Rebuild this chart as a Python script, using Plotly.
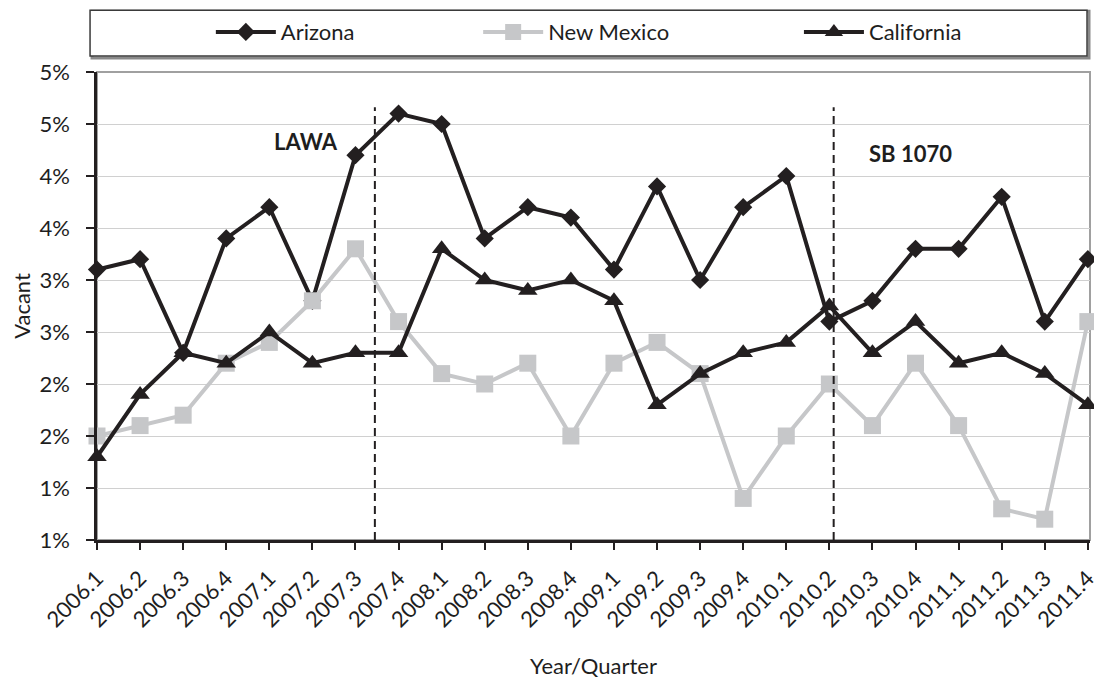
import plotly.graph_objects as go

quarters = ["2006.1", "2006.2", "2006.3", "2006.4", "2007.1", "2007.2", "2007.3", "2007.4",
            "2008.1", "2008.2", "2008.3", "2008.4", "2009.1", "2009.2", "2009.3", "2009.4",
            "2010.1", "2010.2", "2010.3", "2010.4", "2011.1", "2011.2", "2011.3", "2011.4"]
arizona = [3.1, 3.2, 2.3, 3.4, 3.7, 2.8, 4.2, 4.6, 4.5, 3.4, 3.7, 3.6,
           3.1, 3.9, 3.0, 3.7, 4.0, 2.6, 2.8, 3.3, 3.3, 3.8, 2.6, 3.2]
new_mexico = [1.5, 1.6, 1.7, 2.2, 2.4, 2.8, 3.3, 2.6, 2.1, 2.0, 2.2, 1.5,
              2.2, 2.4, 2.1, 0.9, 1.5, 2.0, 1.6, 2.2, 1.6, 0.8, 0.7, 2.6]
california = [1.3, 1.9, 2.3, 2.2, 2.5, 2.2, 2.3, 2.3, 3.3, 3.0, 2.9, 3.0,
              2.8, 1.8, 2.1, 2.3, 2.4, 2.75, 2.3, 2.6, 2.2, 2.3, 2.1, 1.8]
y_tick_values = [0.5, 1.0, 1.5, 2.0, 2.5, 3.0, 3.5, 4.0, 4.5, 5.0]
y_tick_labels = ["1%", "1%", "2%", "2%", "3%", "3%", "4%", "4%", "5%", "5%"]
event_names = ["LAWA", "SB 1070"]
event_positions = [6.45, 17.1]   # between quarters (category index)

FONT = "Lato"
BLACK = "#231f20"
GRAY = "#c6c7c9"
TXT = "#1e1e1e"
FS = 22
PW = 1003.0  # plot width in px (for paper-coordinate placement)

fig = go.Figure()
fig.add_trace(go.Scatter(
    x=quarters, y=arizona, name="Arizona", mode="lines+markers",
    line=dict(color=BLACK, width=4),
    marker=dict(symbol="diamond", size=14, color=BLACK),
    cliponaxis=False, legend="legend"))
fig.add_trace(go.Scatter(
    x=quarters, y=new_mexico, name="New Mexico", mode="lines+markers",
    line=dict(color=GRAY, width=4),
    marker=dict(symbol="square", size=17, color=GRAY),
    cliponaxis=False, legend="legend2"))
fig.add_trace(go.Scatter(
    x=quarters, y=california, name="California", mode="lines+markers",
    line=dict(color=BLACK, width=4),
    marker=dict(symbol="triangle-up", size=17, color=BLACK),
    cliponaxis=False, legend="legend3"))

# plot-area frame (gray top/right) and legend box
fig.add_shape(type="rect", xref="paper", yref="paper", x0=0, x1=1, y0=0, y1=1,
              line=dict(color="#a0a0a0", width=2), layer="below")
fig.add_shape(type="rect", xref="paper", yref="paper", x0=-0.005, x1=0.999,
              y0=1.030, y1=1.1300, line=dict(color="#8a8a8a", width=3), layer="below")
fig.add_shape(type="rect", xref="paper", yref="paper", x0=-0.007, x1=0.997,
              y0=1.034, y1=1.1322, line=dict(color="#3a3a3a", width=1.5),
              fillcolor="white", layer="below")

for pos in event_positions:
    fig.add_shape(type="line", xref="x", yref="y", x0=pos, x1=pos, y0=0.5, y1=4.66,
                  line=dict(color=BLACK, width=2, dash="8px,5px"))

fig.add_annotation(x=event_positions[0], y=4.33, xref="x", yref="y",
                   text="<b>" + event_names[0] + "</b>",
                   showarrow=False, xanchor="right", xshift=-35,
                   font=dict(family=FONT, size=FS, color=TXT))
fig.add_annotation(x=event_positions[1], y=4.22, xref="x", yref="y",
                   text="<b>" + event_names[1] + "</b>",
                   showarrow=False, xanchor="left", xshift=33,
                   font=dict(family=FONT, size=FS, color=TXT))

leg_common = dict(orientation="h", yanchor="middle", xanchor="left", y=1.0853,
                  bgcolor="rgba(0,0,0,0)", borderwidth=0, itemwidth=60,
                  font=dict(family=FONT, size=FS, color=TXT))
fig.update_layout(
    width=1094, height=673,
    margin=dict(l=88, r=3, t=63, b=141),
    paper_bgcolor="white", plot_bgcolor="white",
    font=dict(family=FONT, size=FS, color=TXT),
    showlegend=True,
    legend=dict(x=(211 - 96) / PW, **leg_common),
    legend2=dict(x=(481 - 96) / PW, **leg_common),
    legend3=dict(x=(805 - 96) / PW, **leg_common),
    xaxis=dict(
        type="category", range=[0, 23.05],
        showline=True, linecolor=BLACK, linewidth=2.5,
        ticks="outside", ticklen=7, tickwidth=2, tickcolor=BLACK,
        tickangle=-45, showgrid=False, zeroline=False,
        tickfont=dict(family=FONT, size=FS, color=TXT),
        ticklabelstandoff=7,
        title=dict(text="Year/Quarter", standoff=28,
                   font=dict(family=FONT, size=FS, color=TXT)),
    ),
    yaxis=dict(
        range=[0.5, 5.0], tickvals=y_tick_values, ticktext=y_tick_labels,
        showline=True, linecolor=BLACK, linewidth=2.5,
        ticks="outside", ticklen=8, tickwidth=2, tickcolor=BLACK,
        showgrid=True, gridcolor="#d0d0d0", gridwidth=1.2, zeroline=False,
        tickfont=dict(family=FONT, size=FS, color=TXT),
        ticklabelstandoff=12,
        title=dict(text="Vacant", standoff=13,
                   font=dict(family=FONT, size=FS, color=TXT)),
    ),
)

fig.write_html("out.html")
